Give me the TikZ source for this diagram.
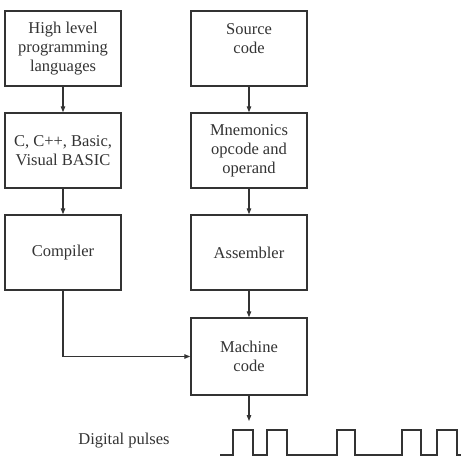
\documentclass[tikz,border=0pt]{standalone}
\usepackage{fontspec}
\setmainfont{Liberation Serif}
\usetikzlibrary{arrows.meta}
\definecolor{ink}{HTML}{333333}
\begin{document}
\begin{tikzpicture}[x=1pt,y=-1pt,
  blk/.style={draw=ink,line width=1.5pt,minimum width=116pt,minimum height=75pt,inner sep=0pt,
    align=center,text=ink,font=\fontsize{16.5}{19}\selectfont},
  conn/.style={draw=ink,line width=1.2pt,-{Triangle[length=6pt,width=4.5pt]}},
  wave/.style={draw=ink,line width=1.5pt}]
\useasboundingbox (0,0) rectangle (462,467);
\node[blk] (hl) at (63,48.5) {High level\\programming\\languages};
\node[blk] (cc) at (63,150.5) {C, C++, Basic,\\Visual BASIC};
\node[blk] (comp) at (63,252.5) {Compiler};
\node[blk] (src) at (249,48.5) {Source\\code\\\mbox{}};
\node[blk] (mne) at (249,150.5) {Mnemonics\\opcode and\\operand};
\node[blk] (asm) at (249,252.5) {Assembler};
\node[blk,minimum height=77pt] (mach) at (249,356.5) {Machine\\code};
\draw[conn] (hl.south) -- (cc.north);
\draw[conn] (cc.south) -- (comp.north);
\draw[conn] (src.south) -- (mne.north);
\draw[conn] (mne.south) -- (asm.north);
\draw[conn] (asm.south) -- (mach.north);
\draw[conn] (comp.south) |- (mach.west);
\coordinate (pulsetop) at (249,421);
\draw[conn] (mach.south) -- (pulsetop);
\node[text=ink,font=\fontsize{16.5}{19}\selectfont] (dp) at (124,441) {Digital pulses};
\draw[wave] (220,455) -- (233,455) -- (233,430) -- (253,430) -- (253,455) -- (267,455) -- (267,430) -- (287,430) -- (287,455)
  -- (337,455) -- (337,430) -- (355,430) -- (355,455) -- (402,455) -- (402,430) -- (421,430) -- (421,455)
  -- (437,455) -- (437,430) -- (457,430) -- (457,455) -- (461,455);
\end{tikzpicture}
\end{document}
